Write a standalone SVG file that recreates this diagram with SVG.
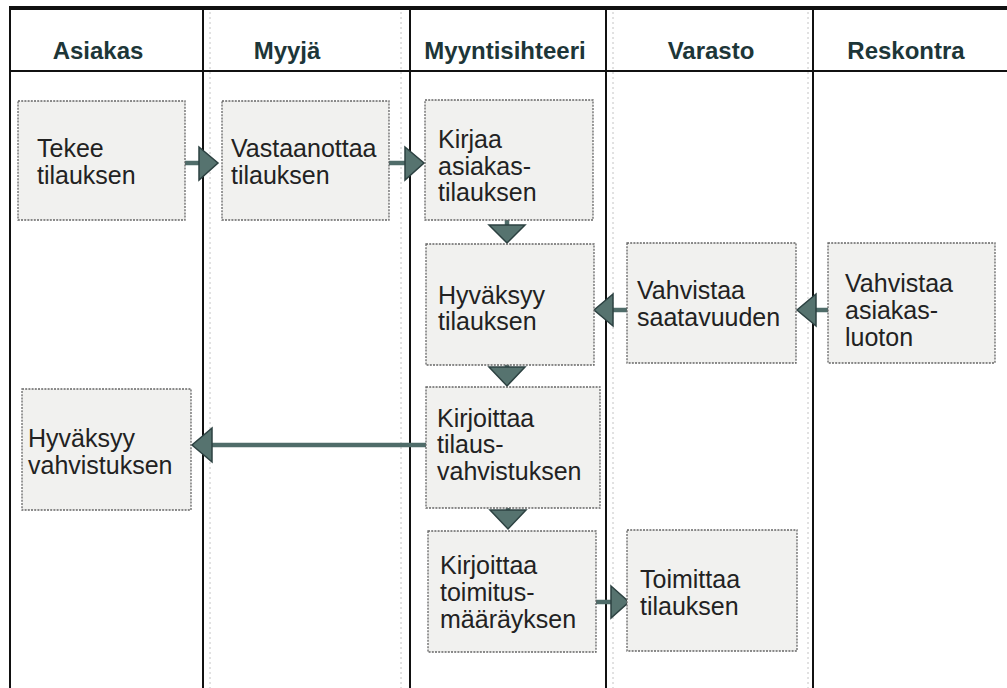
<svg xmlns="http://www.w3.org/2000/svg" width="1007" height="688" viewBox="0 0 1007 688">
  <style>
    .lane { stroke: #111; stroke-width: 2; fill: none; }
    .guide { stroke: #c4c4c4; stroke-width: 1; stroke-dasharray: 2 3; fill: none; }
    .head { font-family: "Liberation Sans", Arial, sans-serif; font-weight: bold; font-size: 24px; fill: #1d3638; }
    .box { fill: #f1f1ef; stroke: #666; stroke-width: 1.3; stroke-dasharray: 2 1.2; }
    .lbl { font-family: "Liberation Sans", Arial, sans-serif; font-size: 25px; fill: #222; }
    .shaft { stroke: #4f6c69; stroke-width: 4.5; fill: none; }
    .head-tri { fill: #56736f; stroke: #2c4141; stroke-width: 1.5; stroke-linejoin: miter; }
  </style>

  <rect width="1007" height="688" fill="#ffffff"/>

  <!-- faint column guides printed beside the lane rules -->
  <g id="guides">
    <line class="guide" x1="210" y1="12" x2="210" y2="688"/>
    <line class="guide" x1="401" y1="12" x2="401" y2="688"/>
    <line class="guide" x1="613" y1="12" x2="613" y2="688"/>
    <line class="guide" x1="808" y1="12" x2="808" y2="688"/>
  </g>

  <!-- swimlane frame -->
  <g id="lanes">
    <line x1="10" y1="8" x2="1007" y2="8" stroke="#111" stroke-width="4"/>
    <line class="lane" x1="10" y1="71" x2="1007" y2="71"/>
    <line class="lane" x1="10" y1="6" x2="10" y2="688"/>
    <line class="lane" x1="203" y1="6" x2="203" y2="688"/>
    <line class="lane" x1="410" y1="6" x2="410" y2="688"/>
    <line class="lane" x1="606" y1="6" x2="606" y2="688"/>
    <line class="lane" x1="813" y1="6" x2="813" y2="688"/>
  </g>

  <!-- lane headings -->
  <g id="headers">
    <text class="head" x="98" y="59" text-anchor="middle">Asiakas</text>
    <text class="head" x="287" y="59" text-anchor="middle">Myyjä</text>
    <text class="head" x="505" y="59" text-anchor="middle">Myyntisihteeri</text>
    <text class="head" x="711" y="59" text-anchor="middle">Varasto</text>
    <text class="head" x="906" y="59" text-anchor="middle">Reskontra</text>
  </g>

  <!-- connectors -->
  <g id="connectors">
    <!-- Tekee -> Vastaanottaa -->
    <line class="shaft" x1="185" y1="163" x2="201" y2="163"/>
    <polygon class="head-tri" points="199,147 218,163 199,180"/>
    <!-- Vastaanottaa -> Kirjaa -->
    <line class="shaft" x1="389" y1="163" x2="407" y2="163"/>
    <polygon class="head-tri" points="405,147 424,163 405,180"/>
    <!-- Kirjaa -> Hyväksyy tilauksen -->
    <line class="shaft" x1="507" y1="220" x2="507" y2="227"/>
    <polygon class="head-tri" points="489,225 525,225 507,243"/>
    <!-- Hyväksyy tilauksen -> Kirjoittaa tilausvahvistuksen -->
    <line class="shaft" x1="507" y1="365" x2="507" y2="369"/>
    <polygon class="head-tri" points="489,367 525,367 507,386"/>
    <!-- Kirjoittaa tilausvahvistuksen -> Kirjoittaa toimitusmääräyksen -->
    <line class="shaft" x1="508" y1="508" x2="508" y2="512"/>
    <polygon class="head-tri" points="490,510 526,510 508,529"/>
    <!-- Vahvistaa saatavuuden -> Hyväksyy tilauksen -->
    <line class="shaft" x1="611" y1="310" x2="627" y2="310"/>
    <polygon class="head-tri" points="613,294 594,310 613,326"/>
    <!-- Vahvistaa asiakasluoton -> Vahvistaa saatavuuden -->
    <line class="shaft" x1="814" y1="310" x2="828" y2="310"/>
    <polygon class="head-tri" points="816,294 797,310 816,326"/>
    <!-- Kirjoittaa tilausvahvistuksen -> Hyväksyy vahvistuksen -->
    <line class="shaft" x1="210" y1="445" x2="426" y2="445"/>
    <polygon class="head-tri" points="212,428 192,445 212,462"/>
    <!-- Kirjoittaa toimitusmääräyksen -> Toimittaa tilauksen -->
    <line class="shaft" x1="596" y1="602" x2="613" y2="602"/>
    <polygon class="head-tri" points="611,586 629,602 611,618"/>
  </g>

  <g id="n-tekee">
    <rect class="box" x="18" y="101" width="167" height="119"/>
    <text class="lbl" x="37" y="157">Tekee</text>
    <text class="lbl" x="37" y="184">tilauksen</text>
  </g>

  <g id="n-vastaanottaa">
    <rect class="box" x="222" y="101" width="167" height="119"/>
    <text class="lbl" x="231" y="157">Vastaanottaa</text>
    <text class="lbl" x="231" y="184">tilauksen</text>
  </g>

  <g id="n-kirjaa">
    <rect class="box" x="425" y="100" width="168" height="120"/>
    <text class="lbl" x="438" y="148">Kirjaa</text>
    <text class="lbl" x="438" y="175">asiakas-</text>
    <text class="lbl" x="438" y="201">tilauksen</text>
  </g>

  <g id="n-hyvaksyy-tilauksen">
    <rect class="box" x="426" y="244" width="168" height="121"/>
    <text class="lbl" x="438" y="304">Hyväksyy</text>
    <text class="lbl" x="438" y="330">tilauksen</text>
  </g>

  <g id="n-vahvistaa-saatavuuden">
    <rect class="box" x="627" y="243" width="169" height="120"/>
    <text class="lbl" x="637" y="299">Vahvistaa</text>
    <text class="lbl" x="637" y="326">saatavuuden</text>
  </g>

  <g id="n-vahvistaa-asiakasluoton">
    <rect class="box" x="828" y="243" width="167" height="120"/>
    <text class="lbl" x="845" y="292">Vahvistaa</text>
    <text class="lbl" x="845" y="319">asiakas-</text>
    <text class="lbl" x="845" y="346">luoton</text>
  </g>

  <g id="n-hyvaksyy-vahvistuksen">
    <rect class="box" x="22" y="389" width="169" height="121"/>
    <text class="lbl" x="28" y="447">Hyväksyy</text>
    <text class="lbl" x="28" y="474">vahvistuksen</text>
  </g>

  <g id="n-kirjoittaa-tilausvahvistuksen">
    <rect class="box" x="426" y="387" width="174" height="121"/>
    <text class="lbl" x="437" y="427">Kirjoittaa</text>
    <text class="lbl" x="437" y="453">tilaus-</text>
    <text class="lbl" x="437" y="480">vahvistuksen</text>
  </g>

  <g id="n-kirjoittaa-toimitusmaarayksen">
    <rect class="box" x="428" y="531" width="168" height="121"/>
    <text class="lbl" x="440" y="574">Kirjoittaa</text>
    <text class="lbl" x="440" y="601">toimitus-</text>
    <text class="lbl" x="440" y="628">määräyksen</text>
  </g>

  <g id="n-toimittaa">
    <rect class="box" x="627" y="530" width="170" height="121"/>
    <text class="lbl" x="640" y="588">Toimittaa</text>
    <text class="lbl" x="640" y="615">tilauksen</text>
  </g>
</svg>
